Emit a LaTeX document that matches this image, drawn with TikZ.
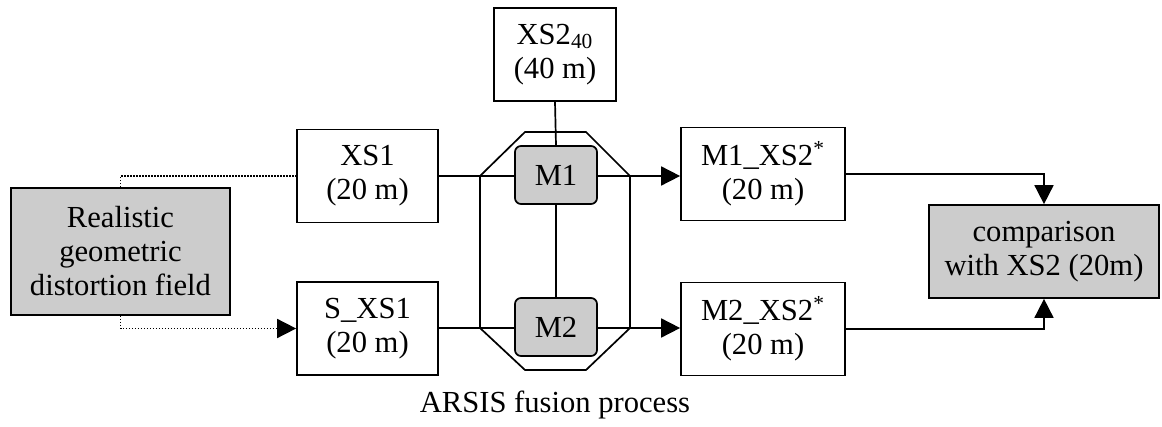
\documentclass[tikz,border=0pt]{standalone}
\usepackage{fontspec}
\setmainfont{Liberation Serif}
\usetikzlibrary{arrows.meta}
\begin{document}
\begin{tikzpicture}[x=0.5pt,y=-0.5pt,
  every node/.style={font=\fontsize{15.3}{17}\selectfont, align=center, inner sep=0pt},
  box/.style={draw, line width=0.85pt, fill=white},
  graybox/.style={draw, line width=0.85pt, fill=black!20},
  mbox/.style={draw, line width=0.85pt, fill=black!20, rounded corners=3pt, minimum width=41pt, minimum height=29pt},
  conn/.style={line width=0.85pt},
  arr/.style={line width=0.85pt, -{Triangle[length=9.5pt,width=9.5pt]}},
  dotline/.style={line width=0.8pt, dash pattern=on 0.7pt off 0.8pt}
]
\useasboundingbox (0,0) rectangle (1162,427);

% octagon
\coordinate (o1) at (480,176);
\coordinate (o2) at (525,132);
\coordinate (o3) at (586,132);
\coordinate (o4) at (630,176);
\coordinate (o5) at (630,328);
\coordinate (o6) at (586,370);
\coordinate (o7) at (525,370);
\coordinate (o8) at (480,328);
\draw[conn] (o1) -- (o2) -- (o3) -- (o4) -- (o5) -- (o6) -- (o7) -- (o8) -- cycle;

\node[box, minimum width=61pt, minimum height=46.5pt] (xs240) at (555,54.5) {XS2\textsubscript{40}\\(40 m)};
\node[box, minimum width=70.5pt, minimum height=46.5pt] (xs1) at (367.5,176) {XS1\\(20 m)};
\node[box, minimum width=70.5pt, minimum height=46.5pt] (sxs1) at (367.5,328.5) {S\_XS1\\(20 m)};
\node[box, minimum width=82pt, minimum height=46.5pt] (m1xs2) at (763,174) {M1\_XS2\textsuperscript{*}\\(20 m)};
\node[box, minimum width=82pt, minimum height=46.5pt] (m2xs2) at (763,329) {M2\_XS2\textsuperscript{*}\\(20 m)};
\node[graybox, minimum width=115pt, minimum height=46.5pt] (comp) at (1044,251.5) {comparison\\with XS2 (20m)};
\node[graybox, minimum width=109.5pt, minimum height=63.5pt] (real) at (120.5,251.5) {Realistic\\geometric\\distortion field};

\draw[conn] (xs1.east |- o1) -- (o1) -- (516,176);
\draw[conn] (sxs1.east |- o8) -- (o8) -- (516,328);

\node[mbox] (m1) at (556,175) {M1};
\node[mbox] (m2) at (556,327) {M2};

\draw[conn] (xs240.south) -- (m1.north);
\draw[conn] (m1.south) -- (m2.north);
\draw[arr] (m1.east |- o4) -- (m1xs2.west |- o4);
\draw[arr] (m2.east |- o5) -- (m2xs2.west |- o5);

\draw[arr] (m1xs2.east) -| (comp.north);
\draw[arr] (m2xs2.east) -| (comp.south);

\draw[dotline] (real.north) |- (xs1.west);
\draw[dotline, -{Triangle[length=9.5pt,width=9.5pt]}] (real.south) |- (sxs1.west);

\node (lbl) at (555,405) {ARSIS fusion process};
\end{tikzpicture}
\end{document}
